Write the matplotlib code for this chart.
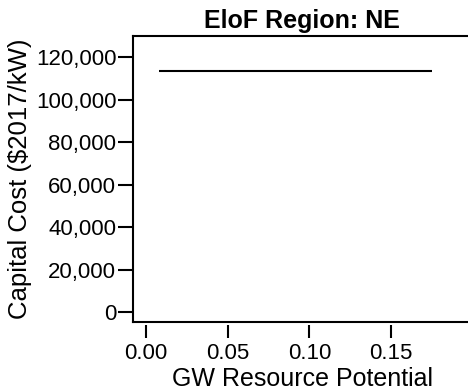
import matplotlib
matplotlib.use('Agg')
import matplotlib.pyplot as plt
from matplotlib.ticker import FuncFormatter

# data
gw_potential = [0.008, 0.175]
capital_cost = [113300, 113300]
x_ticks = [0.00, 0.05, 0.10, 0.15]
y_ticks = [0, 20000, 40000, 60000, 80000, 100000, 120000]

plt.rcParams['font.family'] = ['Liberation Sans', 'DejaVu Sans']

fig = plt.figure(figsize=(4.68, 3.92), dpi=100)
ax = fig.add_axes([0.2842, 0.1786, 0.7222, 0.7296])

ax.plot(gw_potential, capital_cost, color='black', lw=1.5, solid_capstyle='butt')

ax.set_xlim(-0.008, 0.199)
ax.set_ylim(-4700, 129900)

for s in ax.spines.values():
    s.set_linewidth(1.5)

ax.set_yticks(y_ticks)
ax.yaxis.set_major_formatter(FuncFormatter(lambda v, p: f'{int(v):,}'))
ax.tick_params(axis='y', direction='out', length=11, width=1.5, pad=1, labelsize=16)

# x ticks sit slightly below the box, like R's axis()
ax.tick_params(axis='x', bottom=False, labelbottom=False)
sec = ax.secondary_xaxis(-0.011)
sec.spines['bottom'].set_visible(False)
sec.set_xticks(x_ticks)
sec.xaxis.set_major_formatter(FuncFormatter(lambda v, p: f'{v:.2f}'))
sec.tick_params(axis='x', direction='out', length=9, width=1.5, pad=4, labelsize=16)
sec.set_xlabel('GW Resource Potential', fontsize=18, labelpad=2)

ax.set_ylabel('Capital Cost ($2017/kW)', fontsize=18.5, labelpad=3)
ax.set_title('EloF Region: NE', fontsize=18, fontweight='bold', pad=6)

fig.savefig('out.png', dpi=100)
